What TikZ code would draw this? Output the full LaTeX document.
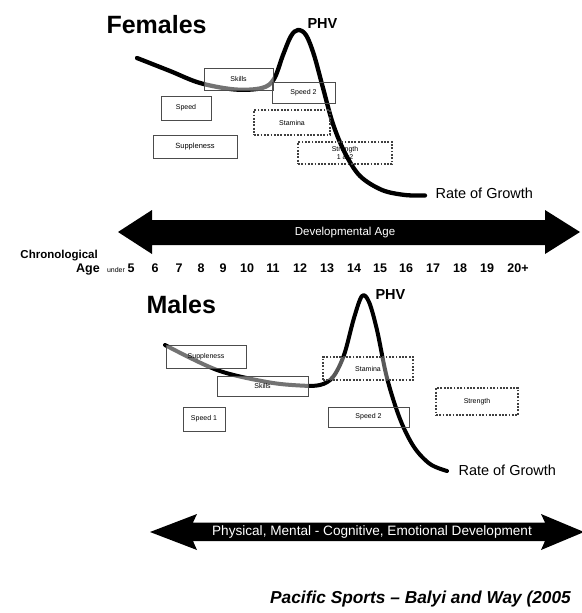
\documentclass[tikz,border=0pt]{standalone}
\usepackage{fontspec}
\setmainfont{Liberation Sans}
\begin{document}
\begin{tikzpicture}[x=1pt,y=-1pt,
  fs/.style={font=\fontsize{#1}{#1}\selectfont},
  box/.style={draw=black!70, line width=0.9pt, inner sep=0pt, align=center,
    font=\fontsize{7}{8}\selectfont},
  veil/.style={box, fill=white, fill opacity=0.45, text opacity=1},
  dotbox/.style={draw=black!75, line width=1.8pt, dash pattern=on 1.8pt off 1.5pt,
    inner sep=0pt, align=center, font=\fontsize{7}{8}\selectfont},
  growth/.style={line width=4.3pt, line cap=round, line join=round},
  title/.style={font=\bfseries\fontsize{25}{25}\selectfont, anchor=base west},
  phv/.style={font=\bfseries\fontsize{14.5}{15}\selectfont, anchor=base west},
  rate/.style={font=\fontsize{14.5}{15}\selectfont, anchor=base west},
  num/.style={font=\bfseries\fontsize{12.5}{13}\selectfont, anchor=base, inner sep=0pt},
  bigarrow/.style={fill=black}
]
\useasboundingbox[fill=white] (0,0) rectangle (581,613);

% ---------------- Females ----------------
\node[title] (females) at (103,33) {Females};
\node[phv] (phvF) at (304,28) {PHV};

\draw[growth] plot[smooth, tension=0.55] coordinates {
  (137,58) (170,71) (200,83) (235,89.5) (262,88) (274,79) (283,55)
  (291,36) (298,30) (306,35) (314,55) (323,88) (333,124) (345,153)
  (360,176) (382,190) (405,195) (425,195.5)};
\node[rate] (rateF) at (432,198) {Rate of Growth};

\node[veil, minimum width=69pt, minimum height=22pt] (skillsF) at (238.5,79) {Skills};
\node[box, minimum width=63pt, minimum height=21pt] (speed2F) at (303.5,92.5) {Speed 2};
\node[box, minimum width=50pt, minimum height=24pt] (speedF) at (186,108) {Speed};
\node[box, minimum width=84pt, minimum height=23pt, font=\fontsize{7.5}{8}\selectfont] (suppF) at (195,146.5) {Suppleness};
\node[dotbox, minimum width=76pt, minimum height=25pt] (staminaF) at (292,122.5) {Stamina};
\node[dotbox, minimum width=94pt, minimum height=22pt, font=\fontsize{7}{7.5}\selectfont] (strengthF) at (345,153) {Strength\\1 \& 2};

% ---------------- Developmental age arrow ----------------
\path[bigarrow] (118,232) -- (152,210) -- (152,220) -- (545,220) -- (545,210)
  -- (580,232) -- (545,254) -- (545,245) -- (152,245) -- (152,254) -- cycle;
\node[text=white, fs=11.5] (devage) at (345,233) {Developmental Age};

\node[font=\bfseries\fontsize{11.5}{12}\selectfont, anchor=base east, inner sep=0pt] (chrono) at (98,258.5) {Chronological};
\node[font=\bfseries\fontsize{12.5}{12}\selectfont, anchor=base east, inner sep=0pt] (agelbl) at (100,272) {Age};
\node[fs=7, anchor=base, inner sep=0pt] (under) at (116,272) {under};
\foreach \t/\x [count=\k] in {5/131,6/155,7/179,8/201,9/223,10/247,11/273,12/300,
  13/327,14/354,15/380,16/406,17/433,18/460,19/487,20+/518}
  \node[num] (age\k) at (\x,272) {\t};

% ---------------- Males ----------------
\node[title] (males) at (143,313) {Males};
\node[phv] (phvM) at (372,299) {PHV};

\draw[growth, line width=4pt] plot[smooth, tension=0.55] coordinates {
  (165,345) (217,370) (267,382) (300,385.5) (320,385) (333,377) (344,355)
  (354,318) (362,296) (369,302) (377,330) (387,378) (400,419) (414,447)
  (430,464) (447,471)};
\node[rate] (rateM) at (455,475) {Rate of Growth};

\node[veil, minimum width=80pt, minimum height=23pt] (suppM) at (206,356.5) {Suppleness};
\node[veil, minimum width=91pt, minimum height=20pt] (skillsM) at (262.5,386) {Skills};
\node[dotbox, minimum width=90pt, minimum height=23pt, fill=white, fill opacity=0.35, text opacity=1] (staminaM) at (368,368.5) {Stamina};
\node[box, minimum width=42pt, minimum height=24pt] (speed1M) at (204,419) {Speed 1};
\node[box, minimum width=81pt, minimum height=20pt] (speed2M) at (368.5,417) {Speed 2};
\node[dotbox, minimum width=82pt, minimum height=27pt] (strengthM) at (477,401.5) {Strength};

% ---------------- Development arrow ----------------
\path[bigarrow] (150,532) -- (197,514) -- (193,522.5) -- (545,522.5) -- (541,514)
  -- (584,532) -- (541,550) -- (545,541) -- (193,541) -- (197,550) -- cycle;
\node[text=white, fs=13.6] (develop) at (372,532) {Physical, Mental - Cognitive, Emotional Development};

% ---------------- Source ----------------
\node[font=\bfseries\itshape\fontsize{17.3}{18}\selectfont, anchor=base west, inner sep=0pt] (source) at (270,603) {Pacific Sports – Balyi and Way (2005};
\end{tikzpicture}
\end{document}
